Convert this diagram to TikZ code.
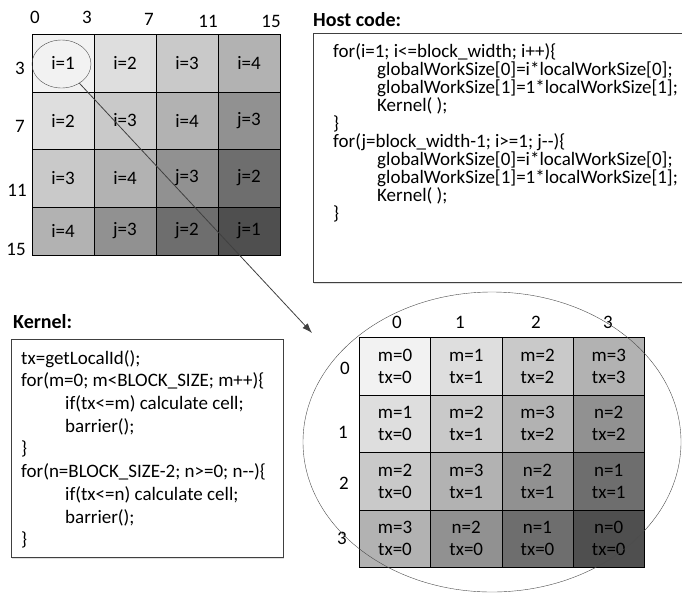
\documentclass[tikz,border=0pt]{standalone}
\usepackage{fontspec}
\setmainfont{Carlito}
\usetikzlibrary{shapes.geometric, arrows.meta, positioning, shadows}
\tikzstyle{cell} = [draw, rectangle, inner sep=0pt, font=\fontsize{19}{22}\selectfont]
\tikzstyle{axis} = [font=\fontsize{19}{22}\selectfont]
\tikzstyle{codebox} = [draw=black!75, fill=white, rectangle, anchor=north west, inner sep=0pt,
  drop shadow={opacity=0.25, shadow xshift=1pt, shadow yshift=-1.5pt}]
\tikzstyle{code} = [anchor=north west, align=left, inner sep=0pt]
\tikzstyle{title} = [anchor=west, inner sep=0pt, font=\bfseries\fontsize{20}{24}\selectfont]
\newcommand{\ind}{\hspace*{44pt}}

\begin{document}
\begin{tikzpicture}[x=1pt, y=-1pt, >=latex]
    \useasboundingbox (0,0) rectangle (682,600);

    % tile grid (host side)
    \foreach \r/\y/\h in {0/63/58, 1/120.5/57, 2/178/58, 3/231/48} {
      \foreach \c in {0,...,3} {
        \pgfmathtruncatemacro\d{\r+\c}
        \pgfmathtruncatemacro\s{{5,13,21,30,43,57,69}[\d]}
        \ifnum\d<4 \def\v{i}\pgfmathtruncatemacro\k{\d+1}\else\def\v{j}\pgfmathtruncatemacro\k{7-\d}\fi
        \node [cell, fill=black!\s, minimum width=62, minimum height=\h] (h-\r-\c) at (63+62*\c, \y) {\v=\k};
      }
    }
    \foreach \t/\x/\y in {0/35/17, 3/87/17, 7/149/19, 11/208/21, 15/271/21}
      \node [axis] (top-\t) at (\x,\y) {\t};
    \foreach \t/\x/\y in {3/20/68, 7/20/126, 11/17/190, 15/16/249}
      \node [axis] (left-\t) at (\x,\y) {\t};

    % work-group grid (kernel side)
    \foreach \r in {0,...,3} {
      \foreach \c in {0,...,3} {
        \pgfmathtruncatemacro\d{\r+\c}
        \pgfmathtruncatemacro\s{{5,13,21,30,43,57,69}[\d]}
        \ifnum\d<4 \def\v{m}\pgfmathtruncatemacro\k{\d}\pgfmathtruncatemacro\tx{\c}%
        \else\def\v{n}\pgfmathtruncatemacro\k{6-\d}\pgfmathtruncatemacro\tx{3-\r}\fi
        \node [cell, align=center, fill=black!\s, minimum width=71.25, minimum height=57.5]
          (k-\r-\c) at (395+71.25*\c, 366+57.5*\r) {\v=\k\\tx=\tx};
      }
    }
    \foreach \t/\x in {0/397, 1/460, 2/536, 3/608}
      \node [axis] (col-\t) at (\x,322) {\t};
    \foreach \t/\x/\y in {0/345/368, 1/343/432, 2/344/483, 3/342/538}
      \node [axis] (row-\t) at (\x,\y) {\t};

    % code boxes
    \node [title] (hosttitle) at (313,20) {Host code:};
    \node [codebox, minimum width=369, minimum height=249] (host) at (313,33) {};
    \node [code, font=\fontsize{19}{18}\selectfont] (hostcode) at (333,43) {%
      for(i=1; i<=block\_width; i++)\{\\
      \ind globalWorkSize[0]=i*localWorkSize[0];\\
      \ind globalWorkSize[1]=1*localWorkSize[1];\\
      \ind Kernel( );\\
      \}\\
      for(j=block\_width-1; i>=1; j-{}-)\{\\
      \ind globalWorkSize[0]=i*localWorkSize[0];\\
      \ind globalWorkSize[1]=1*localWorkSize[1];\\
      \ind Kernel( );\\
      \}};

    \node [title] (kerneltitle) at (13,322) {Kernel:};
    \node [codebox, minimum width=272, minimum height=218] (kernel) at (11,339) {};
    \node [code, font=\fontsize{19}{22.7}\selectfont] (kernelcode) at (21,350) {%
      tx=getLocalId();\\
      for(m=0; m<BLOCK\_SIZE; m++)\{\\
      \ind if(tx<=m) calculate cell;\\
      \ind barrier();\\
      \}\\
      for(n=BLOCK\_SIZE-2; n>=0; n-{}-)\{\\
      \ind if(tx<=n) calculate cell;\\
      \ind barrier();\\
      \}};

    % zoom from one tile to one work-group
    \node [draw=black!70, ellipse, minimum width=59, minimum height=48, inner sep=0pt] (sel) at (61.5,64) {};
    \node [draw=black!70, ellipse, minimum width=378, minimum height=300, inner sep=0pt] (zoom) at (492,442) {};
    \coordinate (tip) at (312,333);
    \draw [->, black!75, line width=0.8pt, -{Latex[length=10pt,width=7pt]}] (sel) -- (tip);
\end{tikzpicture}
\end{document}
